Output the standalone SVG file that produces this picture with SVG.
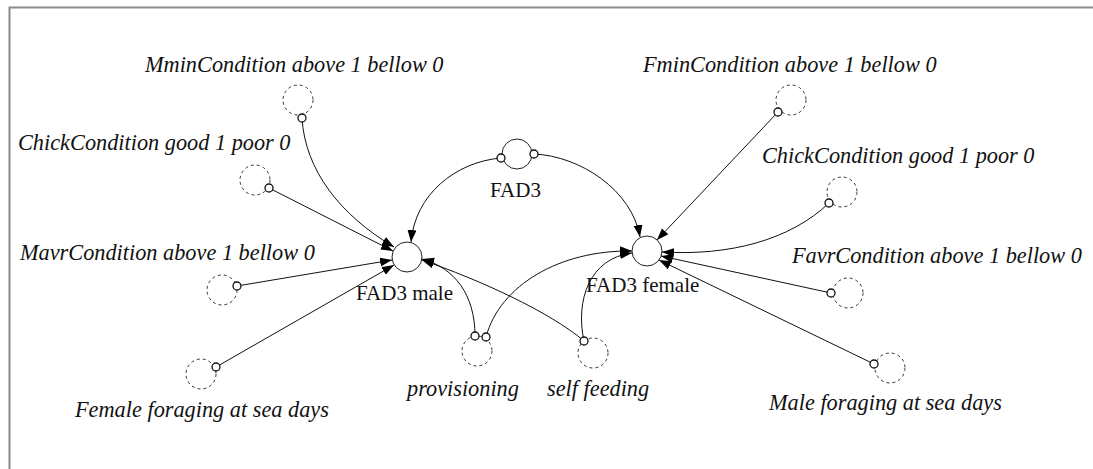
<svg xmlns="http://www.w3.org/2000/svg" width="1093" height="469" viewBox="0 0 1093 469">
<style>
.lbl{font-family:"Liberation Serif","Times New Roman",serif;font-size:21px;fill:#111}
.it{font-style:italic;font-size:22.3px}
.ghost{fill:none;stroke:#333;stroke-width:1;stroke-dasharray:3,3}
.var{fill:#fff;stroke:#222;stroke-width:1}
.pin{fill:#fff;stroke:#111;stroke-width:1.3}
.link{fill:none;stroke:#111;stroke-width:1;marker-end:url(#ah)}
</style>
<defs>
<marker id="ah" markerUnits="userSpaceOnUse" markerWidth="13" markerHeight="10" refX="12" refY="4.5" orient="auto">
<path d="M0,0 L12,4.5 L0,9 z" fill="#000"/>
</marker>
</defs>
<rect width="1093" height="469" fill="#fff"/>
<path d="M9.5,469 V7.5 H1093" fill="none" stroke="#8a8a8a" stroke-width="2"/>

<g id="connectors">
<path class="link" d="M302,118 C305,170 340,215 394,247"/>
<path class="link" d="M269,188 L393,251"/>
<path class="link" d="M237,286 L392,260"/>
<path class="link" d="M216,367 L394,265"/>
<path class="link" d="M501,158 C455,162 415,195 411,242"/>
<path class="link" d="M475,336 C475,295 455,268 422,259"/>
<path class="link" d="M584,341 C550,312 480,280 422,260"/>
<path class="link" d="M534,154 C580,156 632,190 640,237"/>
<path class="link" d="M778,112 L657,240"/>
<path class="link" d="M829,203 C790,240 730,256 662,252"/>
<path class="link" d="M831,293 L661,256"/>
<path class="link" d="M874,364 L659,260"/>
<path class="link" d="M486,337 C500,285 560,250 632,251"/>
<path class="link" d="M584,341 C575,300 590,258 632,253"/>
</g>

<g id="fad3">
<circle class="var" cx="517" cy="154" r="15"/>
<circle class="pin" cx="501" cy="158" r="4"/>
<circle class="pin" cx="534" cy="154" r="4"/>
<text class="lbl" x="490" y="197">FAD3</text>
</g>
<g id="fad3-male">
<circle class="var" cx="407" cy="257" r="15"/>
<text class="lbl" x="356" y="300">FAD3 male</text>
</g>
<g id="fad3-female">
<circle class="var" cx="647" cy="251" r="15"/>
<text class="lbl" x="586" y="292">FAD3 female</text>
</g>

<g id="mmin">
<circle class="ghost" cx="298" cy="100" r="15"/>
<circle class="pin" cx="302" cy="118" r="4"/>
<text class="lbl it" x="145" y="72">MminCondition above 1 bellow 0</text>
</g>
<g id="chick-left">
<circle class="ghost" cx="255" cy="180" r="15"/>
<circle class="pin" cx="269" cy="188" r="4"/>
<text class="lbl it" x="18" y="150">ChickCondition good 1 poor 0</text>
</g>
<g id="mavr">
<circle class="ghost" cx="222" cy="290" r="15"/>
<circle class="pin" cx="237" cy="286" r="4"/>
<text class="lbl it" x="20" y="260">MavrCondition above 1 bellow 0</text>
</g>
<g id="female-foraging">
<circle class="ghost" cx="201" cy="374" r="15"/>
<circle class="pin" cx="216" cy="367" r="4"/>
<text class="lbl it" x="75" y="417">Female foraging at sea days</text>
</g>
<g id="provisioning">
<circle class="ghost" cx="477" cy="351" r="15"/>
<circle class="pin" cx="475" cy="336" r="4"/>
<circle class="pin" cx="486" cy="337" r="4"/>
<text class="lbl it" x="407" y="396">provisioning</text>
</g>
<g id="self-feeding">
<circle class="ghost" cx="593" cy="353" r="15"/>
<circle class="pin" cx="584" cy="341" r="4"/>
<text class="lbl it" x="547" y="396">self feeding</text>
</g>
<g id="fmin">
<circle class="ghost" cx="791" cy="100" r="15"/>
<circle class="pin" cx="778" cy="112" r="4"/>
<text class="lbl it" x="643" y="72">FminCondition above 1 bellow 0</text>
</g>
<g id="chick-right">
<circle class="ghost" cx="842" cy="192" r="15"/>
<circle class="pin" cx="829" cy="203" r="4"/>
<text class="lbl it" x="762" y="163">ChickCondition good 1 poor 0</text>
</g>
<g id="favr">
<circle class="ghost" cx="848" cy="293" r="15"/>
<circle class="pin" cx="831" cy="293" r="4"/>
<text class="lbl it" x="792" y="263">FavrCondition above 1 bellow 0</text>
</g>
<g id="male-foraging">
<circle class="ghost" cx="890" cy="368" r="15"/>
<circle class="pin" cx="874" cy="364" r="4"/>
<text class="lbl it" x="769" y="410">Male foraging at sea days</text>
</g>
</svg>
